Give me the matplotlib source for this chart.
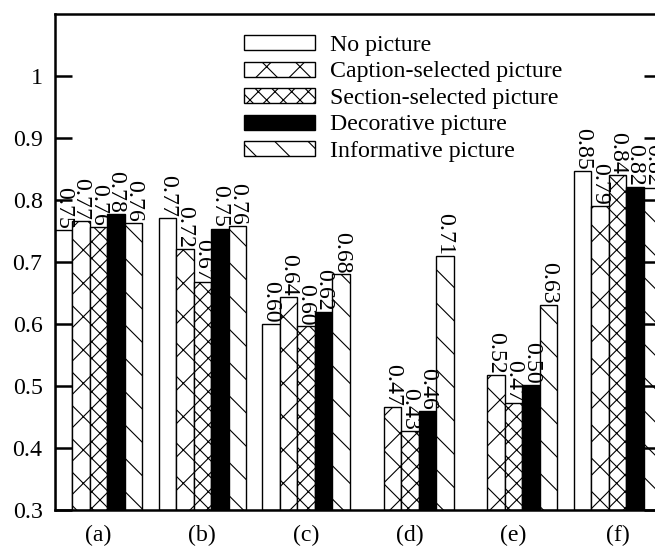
import numpy as np
import matplotlib
matplotlib.use('Agg')
import matplotlib.pyplot as plt

plt.rcParams['font.family'] = ['Liberation Serif', 'DejaVu Serif']
plt.rcParams['hatch.linewidth'] = 0.4

groups = ['(a)', '(b)', '(c)', '(d)', '(e)', '(f)']
series = ['No picture', 'Caption-selected picture', 'Section-selected picture',
          'Decorative picture', 'Informative picture']
no_pic = [0.751, 0.771, 0.600, np.nan, np.nan, 0.846]
caption = [0.766, 0.721, 0.644, 0.466, 0.518, 0.790]
section = [0.756, 0.668, 0.596, 0.427, 0.473, 0.840]
decorative = [0.777, 0.754, 0.619, 0.460, 0.502, 0.821]
informative = [0.763, 0.758, 0.680, 0.710, 0.631, 0.820]
yticks = [0.3, 0.4, 0.5, 0.6, 0.7, 0.8, 0.9, 1.0]
ytick_labels = ['0.3', '0.4', '0.5', '0.6', '0.7', '0.8', '0.9', '1']

data = [no_pic, caption, section, decorative, informative]
faces = ['white', 'white', 'white', 'black', 'white']
hatches = [None, 'xx', 'xxxx', None, '\\\\']

fs = 8.6
fig = plt.figure(figsize=(6.55 / 2, 5.46 / 2), dpi=200)
ax = fig.add_axes([55 / 655, 1 - 510 / 546, 606 / 655, 496 / 546])

x = np.arange(len(groups))
w = 0.169
for j, vals in enumerate(data):
    pos = x + (j - 2) * w
    vals = np.array(vals)
    ok = ~np.isnan(vals)
    ax.bar(pos[ok], vals[ok] - 0.3, bottom=0.3, width=w, color=faces[j],
           edgecolor='black', hatch=hatches[j], linewidth=0.5, label=series[j])
    for p, v in zip(pos[ok], vals[ok]):
        ax.text(p, v + 0.002, '%.2f' % v, rotation=-90, ha='center', va='bottom',
                fontsize=fs, clip_on=False)

ax.set_xlim(-0.42, 5.42)
ax.set_ylim(0.3, 1.1)
ax.set_yticks(yticks)
ax.set_yticklabels(ytick_labels, fontsize=fs)
ax.set_xticks(x)
ax.set_xticklabels(groups, fontsize=fs)
ax.tick_params(axis='y', direction='in', length=6, width=0.9, right=True, pad=4.5)
ax.tick_params(axis='x', length=0, pad=5.5)
for s in ax.spines.values():
    s.set_linewidth(0.9)

ax.legend(loc='upper left', bbox_to_anchor=(244 / 655, 1 - 35 / 546),
          bbox_transform=fig.transFigure, frameon=False, fontsize=fs,
          handlelength=2.97, handleheight=0.59, handletextpad=0.63,
          labelspacing=0.23, borderpad=0, borderaxespad=0)

fig.savefig('out.png', dpi=200)
